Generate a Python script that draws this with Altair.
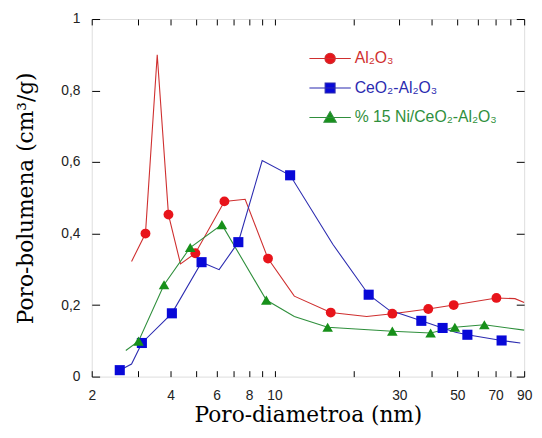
import altair as alt
import pandas as pd

series_names = ["Al₂O₃", "CeO₂-Al₂O₃", "% 15 Ni/CeO₂-Al₂O₃"]
marker_colors = ["#e8141b", "#0808d8", "#17901a"]
line_colors = ["#cf2f2f", "#2b2bb0", "#2f8f3c"]
marker_shapes = ["circle", "square", "triangle-up"]
marker_sizes = [100, 105, 115]

# Al2O3
al_x = [2.84, 3.21, 3.56, 3.93, 4.37, 4.98, 6.43, 7.72, 9.44, 11.9, 16.4, 22.5, 28.2, 38.7, 48.4, 70.5, 83, 90]
al_y = [0.322, 0.40, 0.90, 0.453, 0.315, 0.345, 0.49, 0.496, 0.33, 0.225, 0.179, 0.168, 0.176, 0.189, 0.20, 0.22, 0.218, 0.207]
al_m = [0, 1, 0, 1, 0, 1, 1, 0, 1, 0, 1, 0, 1, 1, 1, 1, 0, 0]

# CeO2-Al2O3
ce_x = [2.56, 2.84, 3.11, 4.05, 5.26, 6.14, 7.27, 8.97, 11.47, 16.7, 22.9, 27.4, 36.4, 43.9, 49.2, 54.6, 73.8, 87]
ce_y = [0.018, 0.035, 0.094, 0.177, 0.32, 0.299, 0.376, 0.604, 0.563, 0.37, 0.229, 0.186, 0.156, 0.136, 0.124, 0.117, 0.101, 0.094]
ce_m = [1, 0, 1, 1, 1, 0, 1, 0, 1, 0, 1, 0, 1, 1, 0, 1, 1, 0]

# 15% Ni/CeO2-Al2O3
ni_x = [2.70, 3.02, 3.78, 4.76, 6.29, 9.30, 11.9, 15.96, 28.2, 39.5, 48.9, 63.4, 90]
ni_y = [0.073, 0.099, 0.257, 0.361, 0.425, 0.214, 0.168, 0.138, 0.127, 0.122, 0.138, 0.145, 0.13]
ni_m = [0, 1, 1, 1, 1, 1, 0, 1, 1, 1, 1, 1, 0]

x_tick_values = [2, 3, 4, 5, 6, 7, 8, 9, 10, 20, 30, 40, 50, 60, 70, 80, 90]
x_label_values = [2, 4, 6, 8, 10, 30, 50, 70, 90]
y_tick_values = [0, 0.2, 0.4, 0.6, 0.8, 1]

rows = []
for name, xs, ys, ms in [(series_names[0], al_x, al_y, al_m),
                         (series_names[1], ce_x, ce_y, ce_m),
                         (series_names[2], ni_x, ni_y, ni_m)]:
    for i, (xv, yv, mv) in enumerate(zip(xs, ys, ms)):
        rows.append({"series": name, "x": xv, "y": yv, "marker": mv, "order": i})
df = pd.DataFrame(rows)

xscale = alt.Scale(type="log", domain=[2, 90], nice=False)
yscale = alt.Scale(domain=[0, 1], nice=False, zero=False)

# legend symbol paths (short line + marker), unit box scaled by symbol size
leg_circle = "M-1,0L1,0M0.25,0A0.25,0.25,0,1,1,-0.25,0A0.25,0.25,0,1,1,0.25,0Z"
leg_square = "M-1,0L1,0M-0.24,-0.24L0.24,-0.24L0.24,0.24L-0.24,0.24Z"
leg_tri = "M-1,0L1,0M0,-0.29L0.3,0.23L-0.3,0.23Z"
legend_paths = [leg_circle, leg_square, leg_tri]

label_expr_x = "indexof([2,4,6,8,10,30,50,70,90], datum.value) >= 0 ? datum.label : ''"

fill_scale = alt.Scale(domain=series_names, range=marker_colors)
stroke_scale = alt.Scale(domain=series_names, range=line_colors)


def common_legend():
    return alt.Legend(
        orient="none", legendX=220, legendY=18, title=None,
        symbolSize=1764, symbolStrokeWidth=1.1, symbolOpacity=1,
        labelFont="Liberation Sans", labelFontSize=16,
        labelColor={"expr": "scale('stroke', datum.value)"},
        labelOffset=3, rowPadding=-4,
    )


lines = alt.Chart(df).mark_line(strokeWidth=1.1).encode(
    x=alt.X("x:Q", scale=xscale,
            axis=alt.Axis(orient="bottom", values=x_tick_values, format="~g",
                          labelExpr=label_expr_x, offset=-6, tickSize=6,
                          domain=False, grid=False, labelPadding=12,
                          labelFlush=False,
                          labelFont="Liberation Sans", labelFontSize=14,
                          labelColor="#222222", tickColor="black",
                          title="Poro-diametroa (nm)", titleFont="DejaVu Serif",
                          titleFontSize=22, titleFontWeight="normal",
                          titleColor="black", titlePadding=3)),
    y=alt.Y("y:Q", scale=yscale,
            axis=alt.Axis(orient="left", values=y_tick_values, format="~g",
                          labelExpr="replace(datum.label, '.', ',')",
                          offset=-8, tickSize=8, domain=False, grid=False,
                          labelPadding=12, labelFlush=False,
                          labelFont="Liberation Sans",
                          labelFontSize=14, labelColor="#222222",
                          tickColor="black",
                          title="Poro-bolumena (cm³/g)", titleFont="DejaVu Serif",
                          titleFontSize=22, titleFontWeight="normal",
                          titleColor="black", titlePadding=24)),
    stroke=alt.Stroke("series:N", scale=stroke_scale, legend=common_legend()),
    detail="series:N",
    order="order:Q",
)

marker_layers = []
for name, shp, sz in zip(series_names, marker_shapes, marker_sizes):
    marker_layers.append(
        alt.Chart(df).transform_filter(
            (alt.datum.marker == 1) & (alt.datum.series == name)
        ).mark_point(filled=True, opacity=1, strokeWidth=0, shape=shp, size=sz).encode(
            x=alt.X("x:Q", scale=xscale),
            y=alt.Y("y:Q", scale=yscale),
            fill=alt.Fill("series:N", scale=fill_scale, legend=common_legend()),
        )
    )

legend_layer = alt.Chart(df).transform_filter("false").mark_point(
    filled=True, opacity=1, strokeWidth=1.1
).encode(
    x=alt.X("x:Q", scale=xscale),
    y=alt.Y("y:Q", scale=yscale),
    fill=alt.Fill("series:N", scale=fill_scale, legend=common_legend()),
    stroke=alt.Stroke("series:N", scale=stroke_scale, legend=common_legend()),
    shape=alt.Shape("series:N", scale=alt.Scale(domain=series_names, range=legend_paths),
                    legend=common_legend()),
)

frame = alt.Chart(df).mark_point(opacity=0).encode(
    x=alt.X("x:Q", scale=xscale,
            axis=alt.Axis(orient="top", values=x_tick_values, labels=False,
                          offset=-6, tickSize=6, domain=False, grid=False,
                          tickColor="black", title=None)),
    y=alt.Y("y:Q", scale=yscale,
            axis=alt.Axis(orient="right", values=y_tick_values, labels=False,
                          offset=-8, tickSize=8, domain=False, grid=False,
                          tickColor="black", title=None)),
)

chart = alt.layer(alt.layer(legend_layer, lines, *marker_layers), frame).resolve_scale(
    x="independent", y="independent"
).properties(
    width=439, height=363,
    autosize=alt.AutoSizeParams(type="none"),
    padding={"left": 85, "top": 8, "right": 10, "bottom": 50},
).configure_view(stroke="black", strokeWidth=1.2).configure(background="white")

chart.save("out.html", embed_options={"renderer": "svg", "actions": False})
